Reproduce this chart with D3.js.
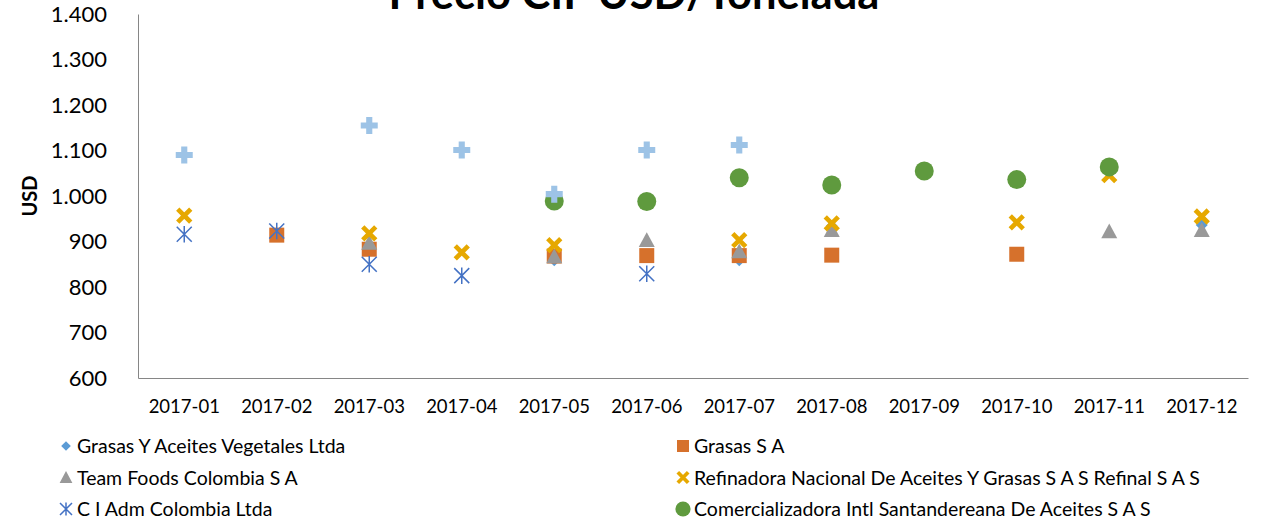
<!DOCTYPE html>
<html>
<head>
<meta charset="utf-8">
<script src="https://cdn.jsdelivr.net/npm/d3@7"></script>
<style>
  body { margin: 0; background: #fff; }
  text { font-family: Lato, "Open Sans", sans-serif; fill: #000; }
</style>
</head>
<body>
<script>
// categories
const months = ['2017-01', '2017-02', '2017-03', '2017-04', '2017-05', '2017-06',
  '2017-07', '2017-08', '2017-09', '2017-10', '2017-11', '2017-12'];

// series values (USD / tonelada), null = no point
const grasasYAceites = [null, null, 888, null, 859, 866, 859, 934, null, null, null, 936];
const grasasSA = [null, 914, 883, null, 868, 869, 869, 870, null, 872, null, null];
const teamFoods = [null, null, 897, null, 867, 903, 878, 925, null, null, 922, 925];
const refinal = [957, null, 918, 876, 892, null, 903, 940, null, 942, 1046, 955];
const ciAdm = [916, 923, 850, 825, null, 829, null, null, null, null, null, null];
const santandereana = [null, null, null, null, 989, 988, 1040, 1024, 1055, 1036, 1064, null];
const otra = [1090, null, 1155, 1101, 1004, 1101, 1112, null, null, null, null, null];

const yTicks = [600, 700, 800, 900, 1000, 1100, 1200, 1300, 1400];

const width = 1268;
const height = 523;
const margin = {left: 138, right: 20, top: 14, bottom: 145};

const series = [
  {name: 'Grasas Y Aceites Vegetales Ltda', values: grasasYAceites, shape: 'diamond', color: '#5B9BD5'},
  {name: 'Grasas S A', values: grasasSA, shape: 'square', color: '#D6712C'},
  {name: 'Team Foods Colombia S A', values: teamFoods, shape: 'triangle', color: '#999999'},
  {name: 'Refinadora Nacional De Aceites Y Grasas S A S Refinal S A S', values: refinal, shape: 'x', color: '#E6A800'},
  {name: 'C I Adm Colombia Ltda', values: ciAdm, shape: 'star', color: '#4472C4'},
  {name: 'Comercializadora Intl Santandereana De Aceites S A S', values: santandereana, shape: 'circle', color: '#5F9A3E'},
  {name: null, values: otra, shape: 'plus', color: '#9DC3E6'}
];

const svg = d3.select('body').append('svg')
  .attr('width', width)
  .attr('height', height);

const x = d3.scaleBand()
  .domain(months)
  .range([margin.left, width - margin.right]);

const y = d3.scaleLinear()
  .domain([600, 1400])
  .range([height - margin.bottom, margin.top]);

// marker drawing
const markerPath = (shape, s) => {
  const h = s / 2;
  if (shape === 'diamond') return `M0,${-h}L${h},0L0,${h}L${-h},0Z`;
  if (shape === 'square') return `M${-h},${-h}H${h}V${h}H${-h}Z`;
  if (shape === 'triangle') return `M0,${-h}L${h},${h * 0.85}H${-h}Z`;
  if (shape === 'circle') return d3.symbol(d3.symbolCircle, Math.PI * h * h)();
  if (shape === 'plus') {
    const t = s * 0.18;
    return `M${-t},${-h}H${t}V${-t}H${h}V${t}H${t}V${h}H${-t}V${t}H${-h}V${-t}H${-t}Z`;
  }
  if (shape === 'x') return `M${-h},${-h}L${h},${h}M${h},${-h}L${-h},${h}`;
  if (shape === 'star') return `M${-h},${-h}L${h},${h}M${h},${-h}L${-h},${h}M0,${-h * 1.1}V${h * 1.1}`;
};

const drawMarker = (g, shape, color, s) => {
  const p = g.append('path').attr('d', markerPath(shape, s));
  if (shape === 'x') {
    p.attr('fill', 'none').attr('stroke', color).attr('stroke-width', s * 0.36);
  } else if (shape === 'star') {
    p.attr('fill', 'none').attr('stroke', color).attr('stroke-width', 1.5);
  } else {
    p.attr('fill', color);
  }
};

const markerSize = {diamond: 12, square: 15, triangle: 16, x: 13, star: 15, circle: 19, plus: 17};

// axes
const yAxis = d3.axisLeft(y).tickValues(yTicks).tickSize(0).tickPadding(31)
  .tickFormat(d => d3.format(',')(d).replace(',', '.'));
svg.append('g')
  .attr('transform', `translate(${margin.left},0)`)
  .call(yAxis)
  .call(g => g.select('.domain').attr('stroke', '#868686'))
  .call(g => g.selectAll('text').style('font-size', '22px').attr('fill', '#000'));

const xAxis = d3.axisBottom(x).tickSize(0).tickPadding(22);
svg.append('g')
  .attr('transform', `translate(0,${height - margin.bottom})`)
  .call(xAxis)
  .call(g => g.select('.domain').attr('stroke', '#868686'))
  .call(g => g.selectAll('text').style('font-size', '18.5px').attr('fill', '#000'));

// axis title
svg.append('text')
  .attr('transform', `translate(37,${y(1000)}) rotate(-90)`)
  .attr('text-anchor', 'middle')
  .style('font-size', '20px')
  .style('font-weight', 'bold')
  .text('USD');

// chart title (cut by the top edge)
svg.append('text')
  .attr('x', 634)
  .attr('y', 9)
  .attr('text-anchor', 'middle')
  .style('font-size', '43.5px')
  .style('font-weight', 'bold')
  .text('Precio CIF USD/Tonelada');

// points
const plot = svg.append('g');
series.forEach(sr => {
  const g = plot.append('g');
  sr.values.forEach((v, i) => {
    if (v === null) return;
    const m = g.append('g')
      .attr('transform', `translate(${x(months[i]) + x.bandwidth() / 2},${y(v)})`);
    drawMarker(m, sr.shape, sr.color, markerSize[sr.shape]);
  });
});

// legend
const legendItems = series.filter(s => s.name);
const legend = svg.append('g');
legendItems.forEach((sr, i) => {
  const col = i % 2;
  const row = Math.floor(i / 2);
  const lx = col === 0 ? 66 : 683;
  const ly = 446 + row * 31.5;
  const item = legend.append('g').attr('transform', `translate(${lx},${ly})`);
  const m = item.append('g');
  drawMarker(m, sr.shape, sr.color, markerSize[sr.shape] * 0.8);
  item.append('text')
    .attr('x', 11)
    .attr('y', 7)
    .style('font-size', '19.5px')
    .text(sr.name);
});
</script>
</body>
</html>
